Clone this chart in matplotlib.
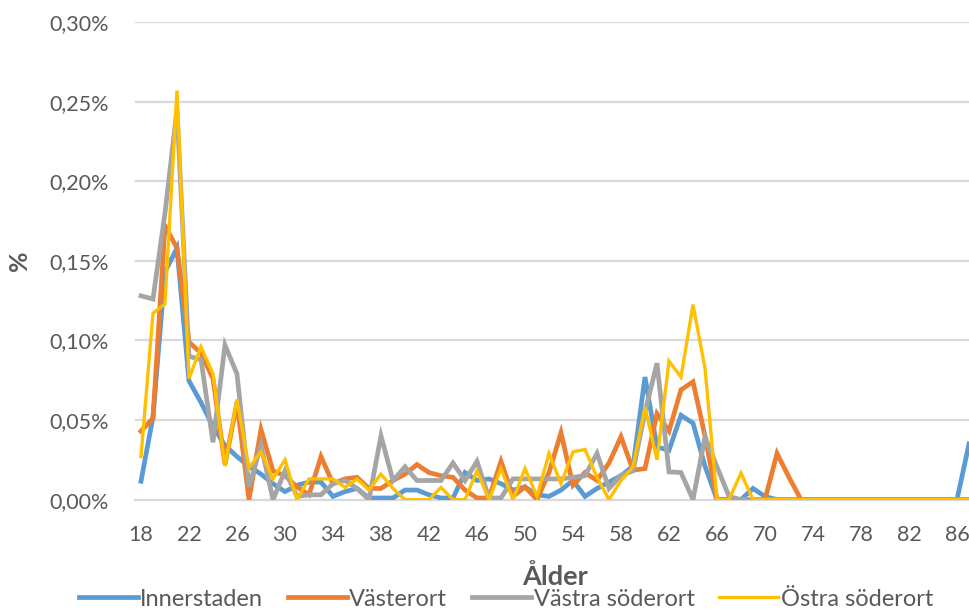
import matplotlib
matplotlib.use('Agg')
import matplotlib.pyplot as plt
import numpy as np
from matplotlib.ticker import FuncFormatter, FixedLocator

# ålder 18..87
ages = list(range(18, 88))

innerstaden = [0.0115, 0.052, 0.143, 0.158, 0.0746, 0.061, 0.046, 0.034, 0.027, 0.021,
               0.016, 0.010, 0.005, 0.009, 0.011, 0.011, 0.002, 0.005, 0.007, 0.001,
               0.001, 0.001, 0.006, 0.006, 0.003, 0.001, 0.001, 0.017, 0.012, 0.013,
               0.010, 0.006, 0.008, 0.003, 0.002, 0.006, 0.012, 0.002, 0.007, 0.011,
               0.015, 0.021, 0.077, 0.033, 0.031, 0.053, 0.048, 0.021, 0.0, 0.0,
               0.0, 0.007, 0.002, 0.0, 0.0, 0.0, 0.0, 0.0, 0.0, 0.0,
               0.0, 0.0, 0.0, 0.0, 0.0, 0.0, 0.0, 0.0, 0.0, 0.035]

vasterort = [0.043, 0.051, 0.172, 0.158, 0.099, 0.092, 0.076, 0.022, 0.061, 0.0,
             0.044, 0.018, 0.015, 0.008, 0.003, 0.027, 0.010, 0.013, 0.014, 0.007,
             0.007, 0.012, 0.016, 0.022, 0.017, 0.015, 0.014, 0.006, 0.001, 0.001,
             0.024, 0.002, 0.008, 0.0, 0.017, 0.042, 0.009, 0.017, 0.012, 0.023,
             0.0395, 0.0185, 0.0195, 0.054, 0.043, 0.069, 0.074, 0.040, 0.0, 0.0,
             0.0, 0.0, 0.0, 0.029, 0.014, 0.0, 0.0, 0.0, 0.0, 0.0,
             0.0, 0.0, 0.0, 0.0, 0.0, 0.0, 0.0, 0.0, 0.0, 0.0]

vastra_soderort = [0.128, 0.126, 0.18, 0.245, 0.090, 0.088, 0.036, 0.097, 0.079, 0.008,
                   0.034, 0.0, 0.018, 0.002, 0.003, 0.003, 0.010, 0.012, 0.007, 0.0,
                   0.040, 0.012, 0.0206, 0.012, 0.012, 0.012, 0.023, 0.012, 0.024, 0.001,
                   0.001, 0.013, 0.013, 0.013, 0.013, 0.013, 0.014, 0.015, 0.029, 0.007,
                   0.0153, 0.018, 0.055, 0.0857, 0.0174, 0.017, 0.0, 0.0395, 0.0206, 0.002,
                   0.0, 0.0, 0.0, 0.0, 0.0, 0.0, 0.0, 0.0, 0.0, 0.0,
                   0.0, 0.0, 0.0, 0.0, 0.0, 0.0, 0.0, 0.0, 0.0, 0.0]

ostra_soderort = [0.027, 0.117, 0.123, 0.257, 0.076, 0.096, 0.079, 0.021, 0.063, 0.020,
                  0.030, 0.013, 0.025, 0.0, 0.013, 0.013, 0.013, 0.0076, 0.013, 0.006,
                  0.016, 0.007, 0.0, 0.0, 0.0, 0.0076, 0.0, 0.0, 0.018, 0.0,
                  0.0195, 0.0, 0.0195, 0.002, 0.029, 0.010, 0.030, 0.0315, 0.014, 0.0,
                  0.012, 0.0206, 0.058, 0.025, 0.087, 0.077, 0.1225, 0.0826, 0.0, 0.0,
                  0.0167, 0.0, 0.0, 0.0, 0.0, 0.0, 0.0, 0.0, 0.0, 0.0,
                  0.0, 0.0, 0.0, 0.0, 0.0, 0.0, 0.0, 0.0, 0.0, 0.0]

series_names = ['Innerstaden', 'Västerort', 'Västra söderort', 'Östra söderort']
xtick_ages = list(range(18, 87, 4))

plt.rcParams['font.family'] = ['Lato', 'DejaVu Sans']
txt = '#595959'

def plot():
    fig = plt.figure(figsize=(9.69, 6.13), dpi=100)
    ax = fig.add_axes([0.1393, 0.185, 0.8607, 0.779])

    data = [innerstaden, vasterort, vastra_soderort, ostra_soderort]
    colors = ['#5B9BD5', '#ED7D31', '#A5A5A5', '#FFC000']
    widths = [3.4, 3.4, 3.4, 2.4]
    for vals, name, c, lw in zip(data, series_names, colors, widths):
        ax.plot(ages, vals, color=c, lw=lw, label=name, solid_joinstyle='miter', zorder=3)

    ax.set_xlim(17.5, 87.0)
    ax.set_ylim(0, 0.30)
    ax.yaxis.set_major_locator(FixedLocator([0, 0.05, 0.10, 0.15, 0.20, 0.25, 0.30]))
    ax.yaxis.set_major_formatter(FuncFormatter(lambda v, p: ('%.2f%%' % v).replace('.', ',')))
    ax.set_xticks(xtick_ages)
    ax.set_xticklabels([str(a) for a in xtick_ages])

    # rutnät som i Excel
    ax.grid(axis='y', color='#D9D9D9', lw=1.6, zorder=0)
    for s in ['top', 'right', 'left']:
        ax.spines[s].set_visible(False)
    ax.spines['bottom'].set_color('#D9D9D9')
    ax.spines['bottom'].set_linewidth(1.6)
    ax.tick_params(axis='both', length=0, labelsize=15.5, colors=txt)
    ax.tick_params(axis='y', pad=19)
    ax.tick_params(axis='x', pad=18)

    fig.text(20 / 969, 1 - 261 / 613, '%', rotation=90, ha='center', va='center',
             fontsize=18, fontweight='bold', color=txt)
    fig.text(555 / 969, 1 - 577 / 613, 'Ålder', ha='center', va='center',
             fontsize=19.5, fontweight='bold', color=txt)

    fig.legend(loc='center', bbox_to_anchor=(506 / 969, 1 - 599 / 613), ncol=4,
               frameon=False, fontsize=17, labelcolor=txt, handlelength=2.5,
               handletextpad=0.1, columnspacing=1.05, borderpad=0, borderaxespad=0)

    fig.savefig('out.png', dpi=100)

if __name__ == '__main__':
    plot()
